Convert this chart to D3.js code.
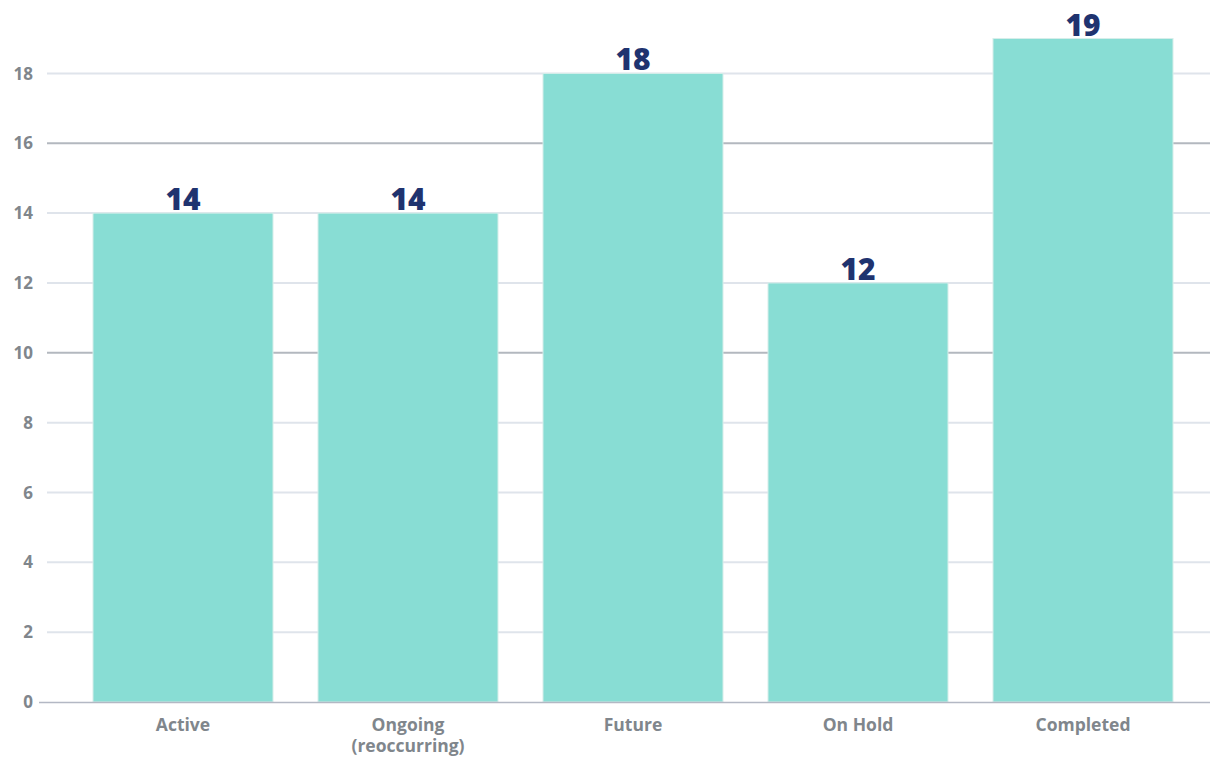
<!DOCTYPE html>
<html>
<head>
<meta charset="utf-8">
<script src="https://cdn.jsdelivr.net/npm/d3@7"></script>
<style>
  body { margin: 0; background: #fff; }
  text { font-family: "Open Sans", Lato, sans-serif; }
</style>
</head>
<body>
<svg id="chart" width="1210" height="757"></svg>
<script>
// data
var categories = ['Active', 'Ongoing\n(reoccurring)', 'Future', 'On Hold', 'Completed'];
var counts = [14, 14, 18, 12, 19];
var yTicks = [0, 2, 4, 6, 8, 10, 12, 14, 16, 18];
var darkTicks = [16, 10];

var svg = d3.select('#chart'),
    width = 1210,
    height = 757,
    margin = { top: 38.5, left: 47, bottom: 702 };

var x = d3.scaleBand()
    .domain(categories)
    .range([70.5, 1195.5])
    .paddingInner(0.2)
    .paddingOuter(0.1);

var y = d3.scaleLinear()
    .domain([0, 19])
    .range([margin.bottom, margin.top]);

// grid lines
svg.append('g')
    .selectAll('line')
    .data(yTicks.filter(function (d) { return d > 0; }))
    .join('line')
    .attr('x1', margin.left)
    .attr('x2', width)
    .attr('y1', function (d) { return y(d); })
    .attr('y2', function (d) { return y(d); })
    .attr('stroke', function (d) { return darkTicks.indexOf(d) >= 0 ? '#b3b8bf' : '#dfe4eb'; })
    .attr('stroke-width', 2);

// y tick labels
svg.append('g')
    .selectAll('text')
    .data(yTicks)
    .join('text')
    .attr('x', 33)
    .attr('y', function (d) { return y(d); })
    .attr('dy', '0.36em')
    .attr('text-anchor', 'end')
    .attr('fill', '#80868c')
    .attr('font-size', 17)
    .attr('font-weight', 'bold')
    .text(function (d) { return d; });

// bars
svg.append('g')
    .selectAll('rect')
    .data(counts)
    .join('rect')
    .attr('x', function (d, i) { return x(categories[i]); })
    .attr('y', function (d) { return y(d); })
    .attr('width', x.bandwidth())
    .attr('height', function (d) { return y(0) - y(d); })
    .attr('fill', '#88ddd4')
    .attr('stroke', '#d6eeea')
    .attr('stroke-width', 1);

// baseline
svg.append('line')
    .attr('x1', 39)
    .attr('x2', width)
    .attr('y1', y(0) + 0.5)
    .attr('y2', y(0) + 0.5)
    .attr('stroke', '#b3b8c4')
    .attr('stroke-width', 1.5);

// value labels
svg.append('g')
    .selectAll('text')
    .data(counts)
    .join('text')
    .attr('x', function (d, i) { return x(categories[i]) + x.bandwidth() / 2; })
    .attr('y', function (d) { return y(d) - 3; })
    .attr('text-anchor', 'middle')
    .attr('fill', '#1f336f')
    .attr('font-family', 'Lato, sans-serif')
    .attr('font-size', 30)
    .attr('font-weight', 900)
    .text(function (d) { return d; });

// category labels, one text per line
var catLabels = svg.append('g')
    .selectAll('g')
    .data(categories)
    .join('g')
    .attr('transform', function (d) { return 'translate(' + (x(d) + x.bandwidth() / 2) + ',0)'; });

catLabels.selectAll('text')
    .data(function (d) { return d.split('\n'); })
    .join('text')
    .attr('x', 0)
    .attr('y', function (d, i) { return 731 + i * 21; })
    .attr('text-anchor', 'middle')
    .attr('fill', '#80868c')
    .attr('font-size', 17.5)
    .attr('font-weight', 'bold')
    .text(function (d) { return d; });
</script>
</body>
</html>
